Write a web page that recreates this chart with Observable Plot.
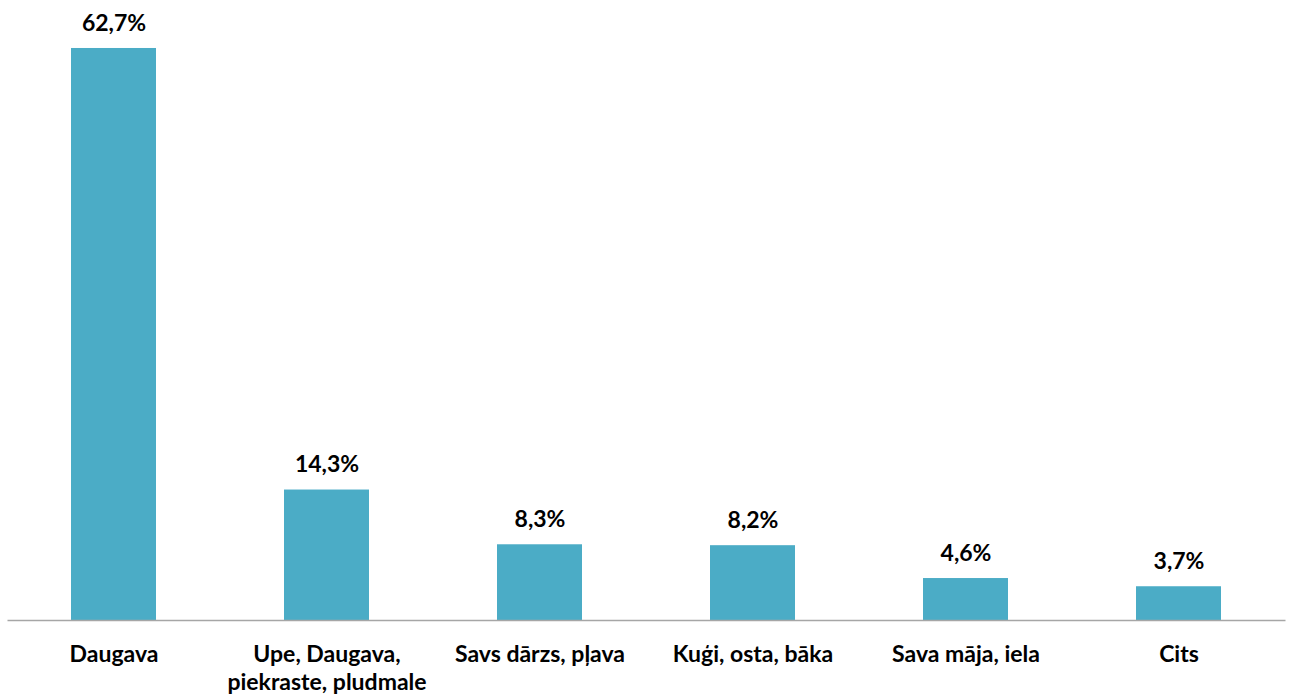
<!DOCTYPE html>
<html>
<head>
<meta charset="utf-8">
<script src="https://cdn.jsdelivr.net/npm/d3@7"></script>
<script src="https://cdn.jsdelivr.net/npm/@observablehq/plot@0.6"></script>
<style>
  html, body { margin: 0; padding: 0; background: #fff; }
  #chart { width: 1290px; height: 694px; }
</style>
</head>
<body>
<div id="chart"></div>
<script>
const categories = [
  "Daugava",
  "Upe, Daugava,\npiekraste, pludmale",
  "Savs dārzs, pļava",
  "Kuģi, osta, bāka",
  "Sava māja, iela",
  "Cits"
];
const values = [62.7, 14.3, 8.3, 8.2, 4.6, 3.7];
const valueLabels = ["62,7%", "14,3%", "8,3%", "8,2%", "4,6%", "3,7%"];

const data = categories.map((c, i) => ({cat: c, value: values[i], label: valueLabels[i]}));

const chart = Plot.plot({
  width: 1290,
  height: 694,
  marginLeft: 7.5,
  marginRight: 4.5,
  marginTop: 27,
  marginBottom: 74,
  style: {fontFamily: "Lato, sans-serif", background: "#fff"},
  x: {domain: categories, paddingInner: 0.6, paddingOuter: 0.3, label: null},
  y: {domain: [0, 65], axis: null},
  marks: [
    Plot.barY(data, {x: "cat", y: "value", fill: "#4BACC6"}),
    Plot.ruleY([0], {stroke: "#A6A6A6", strokeWidth: 1.5}),
    Plot.text(data, {x: "cat", y: "value", text: "label", dy: -25, fontSize: 23, fontWeight: "bold", fill: "#000"}),
    Plot.axisX({tickSize: 0, tickPadding: 22, fontSize: 23, fontWeight: "bold", color: "#000", lineHeight: 1.22, label: null})
  ]
});
document.getElementById("chart").appendChild(chart);
</script>
</body>
</html>
